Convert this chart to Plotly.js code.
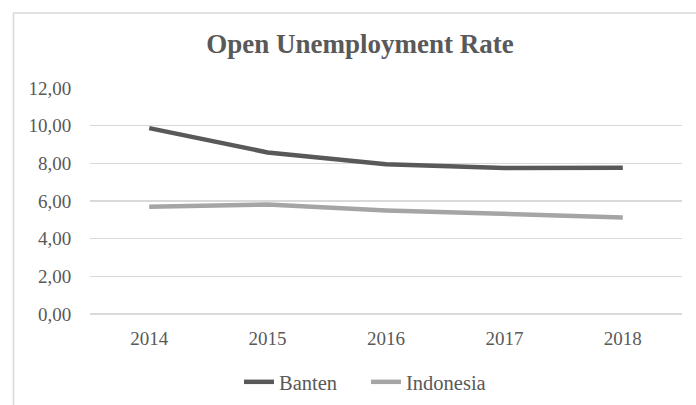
<!DOCTYPE html>
<html>
<head>
<meta charset="utf-8">
<script src="https://cdn.plot.ly/plotly-3.0.1.min.js"></script>
<style>
html,body{margin:0;padding:0;background:#fff;overflow:hidden;}
#chart{width:696px;height:405px;}
</style>
</head>
<body>
<div id="chart"></div>
<script>
var years = ["2014", "2015", "2016", "2017", "2018"];
var banten = [9.87, 8.58, 7.95, 7.75, 7.77];
var indonesia = [5.70, 5.81, 5.50, 5.33, 5.13];
var yTickVals = [0, 2, 4, 6, 8, 10, 12];
var yTickText = ["0,00", "2,00", "4,00", "6,00", "8,00", "10,00", "12,00"];

var FONT = "Liberation Serif";
var TXT = "#595959";

var traces = [
  {x: years, y: banten, name: "Banten", type: "scatter", mode: "lines",
   line: {color: "#595959", width: 4.5}},
  {x: years, y: indonesia, name: "Indonesia", type: "scatter", mode: "lines",
   line: {color: "#a5a5a5", width: 4.5}}
];

var layout = {
  width: 696, height: 405,
  margin: {l: 90, r: 14, t: 88, b: 91},
  paper_bgcolor: "#fff", plot_bgcolor: "#fff",
  font: {family: FONT, color: TXT, size: 19},
  title: {text: "<b>Open Unemployment Rate</b>", x: 360/696, xanchor: "center",
          y: 1 - 44/405, yanchor: "middle", yref: "container",
          font: {family: FONT, size: 27, color: TXT}},
  xaxis: {type: "category", range: [-0.5, 4.5], showgrid: false, zeroline: false,
          showline: false, ticks: "outside", ticklen: 7, tickcolor: "rgba(0,0,0,0)",
          tickfont: {family: FONT, size: 19, color: TXT}, fixedrange: true},
  yaxis: {range: [0, 12], tickvals: yTickVals, ticktext: yTickText,
          showgrid: true, gridcolor: "#d9d9d9", gridwidth: 1.3,
          zeroline: true, zerolinecolor: "#d9d9d9", zerolinewidth: 1.3,
          showline: false, ticks: "outside", ticklen: 14, tickcolor: "rgba(0,0,0,0)",
          tickfont: {family: FONT, size: 19, color: TXT}, fixedrange: true},
  showlegend: true,
  legend: {orientation: "h", x: 239/696, xref: "container", xanchor: "left",
           y: 1 - 382/405, yref: "container", yanchor: "middle",
           font: {family: FONT, size: 20.5, color: TXT}, itemwidth: 30,
           entrywidth: 82, bgcolor: "rgba(0,0,0,0)"},
  shapes: [{type: "rect", xref: "paper", yref: "paper",
            x0: (13.5 - 90)/592, x1: 1.3, y0: -0.6, y1: (314 - 13)/226,
            line: {color: "#d9d9d9", width: 1.5}, fillcolor: "rgba(0,0,0,0)", layer: "below"}]
};

Plotly.newPlot("chart", traces, layout, {displayModeBar: false, staticPlot: true});
</script>
</body>
</html>
